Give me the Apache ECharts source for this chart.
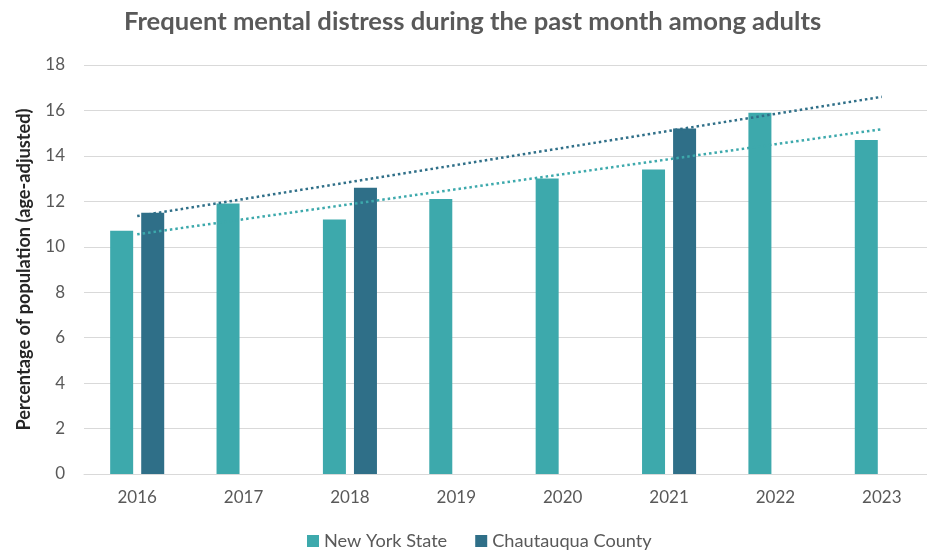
<!DOCTYPE html>
<html>
<head>
    <meta charset="UTF-8">
    <title>Frequent mental distress</title>
    <script src="https://cdn.jsdelivr.net/npm/echarts@6/dist/echarts.min.js"></script>
    <style>
        html, body { margin: 0; padding: 0; background: #fff; }
        #chart { width: 927px; height: 556px; }
    </style>
</head>
<body>
    <div id="chart"></div>
    <script>
        var years = ['2016', '2017', '2018', '2019', '2020', '2021', '2022', '2023'];
        var newYork = [10.7, 11.9, 11.2, 12.1, 13.0, 13.4, 15.9, 14.7];
        var chautauqua = [11.5, null, 12.6, null, null, 15.2, null, null];

        // linear trendline over category index, like Excel does
        function trend(vals) {
            var xs = [], ys = [];
            vals.forEach(function (v, i) {
                if (v != null) { xs.push(i + 1); ys.push(v); }
            });
            var n = xs.length, mx = 0, my = 0;
            for (var i = 0; i < n; i++) { mx += xs[i]; my += ys[i]; }
            mx /= n; my /= n;
            var sxy = 0, sxx = 0;
            for (var j = 0; j < n; j++) {
                sxy += (xs[j] - mx) * (ys[j] - my);
                sxx += (xs[j] - mx) * (xs[j] - mx);
            }
            var slope = sxy / sxx, icpt = my - slope * mx;
            var first = xs[0], out = [];
            vals.forEach(function (v, i) {
                out.push(i + 1 >= first ? +(icpt + slope * (i + 1)).toFixed(3) : null);
            });
            return out;
        }

        var chart = echarts.init(document.getElementById('chart'), null, {renderer: 'canvas'});
        var font = 'Lato, "Open Sans", sans-serif';

        chart.setOption({
            animation: false,
            title: {
                text: 'Frequent mental distress during the past month among adults',
                left: 119,
                top: 4,
                textStyle: { fontFamily: font, fontSize: 25.6, fontWeight: 'bold', color: '#595959' }
            },
            legend: {
                bottom: 1,
                left: 302,
                itemWidth: 12,
                itemHeight: 12,
                itemGap: 28,
                icon: 'rect',
                data: ['New York State', 'Chautauqua County'],
                textStyle: { fontFamily: font, fontSize: 18.2, color: '#595959' }
            },
            grid: { left: 84, width: 851, top: 65, bottom: 82, outerBoundsMode: 'none' },
            xAxis: {
                type: 'category',
                data: years,
                axisLine: { lineStyle: { color: '#d9d9d9' } },
                axisTick: { show: false },
                axisLabel: { fontFamily: font, fontSize: 17, color: '#595959', margin: 15 }
            },
            yAxis: {
                type: 'value',
                min: 0,
                max: 18,
                interval: 2,
                name: 'Percentage of population (age-adjusted)',
                nameLocation: 'middle',
                nameGap: 51,
                nameTextStyle: { fontFamily: font, fontSize: 18.2, fontWeight: 'bold', color: '#262626' },
                axisLabel: { fontFamily: font, fontSize: 17, color: '#595959', margin: 19 },
                splitLine: { lineStyle: { color: '#d9d9d9', width: 1 } }
            },
            series: [
                {
                    name: 'New York State',
                    type: 'bar',
                    data: newYork,
                    barWidth: 23,
                    barGap: '35%',
                    itemStyle: { color: '#3da9ac' }
                },
                {
                    name: 'Chautauqua County',
                    type: 'bar',
                    data: chautauqua,
                    barWidth: 23,
                    itemStyle: { color: '#2f6f88' }
                },
                {
                    name: 'NY trend',
                    type: 'line',
                    data: trend(newYork),
                    symbol: 'none',
                    lineStyle: { color: '#3da9ac', width: 2.5, type: [2.5, 3] },
                    z: 5
                },
                {
                    name: 'Chautauqua trend',
                    type: 'line',
                    data: trend(chautauqua),
                    symbol: 'none',
                    lineStyle: { color: '#2f6f88', width: 2.5, type: [2.5, 3] },
                    z: 5
                }
            ]
        });
    </script>
</body>
</html>
